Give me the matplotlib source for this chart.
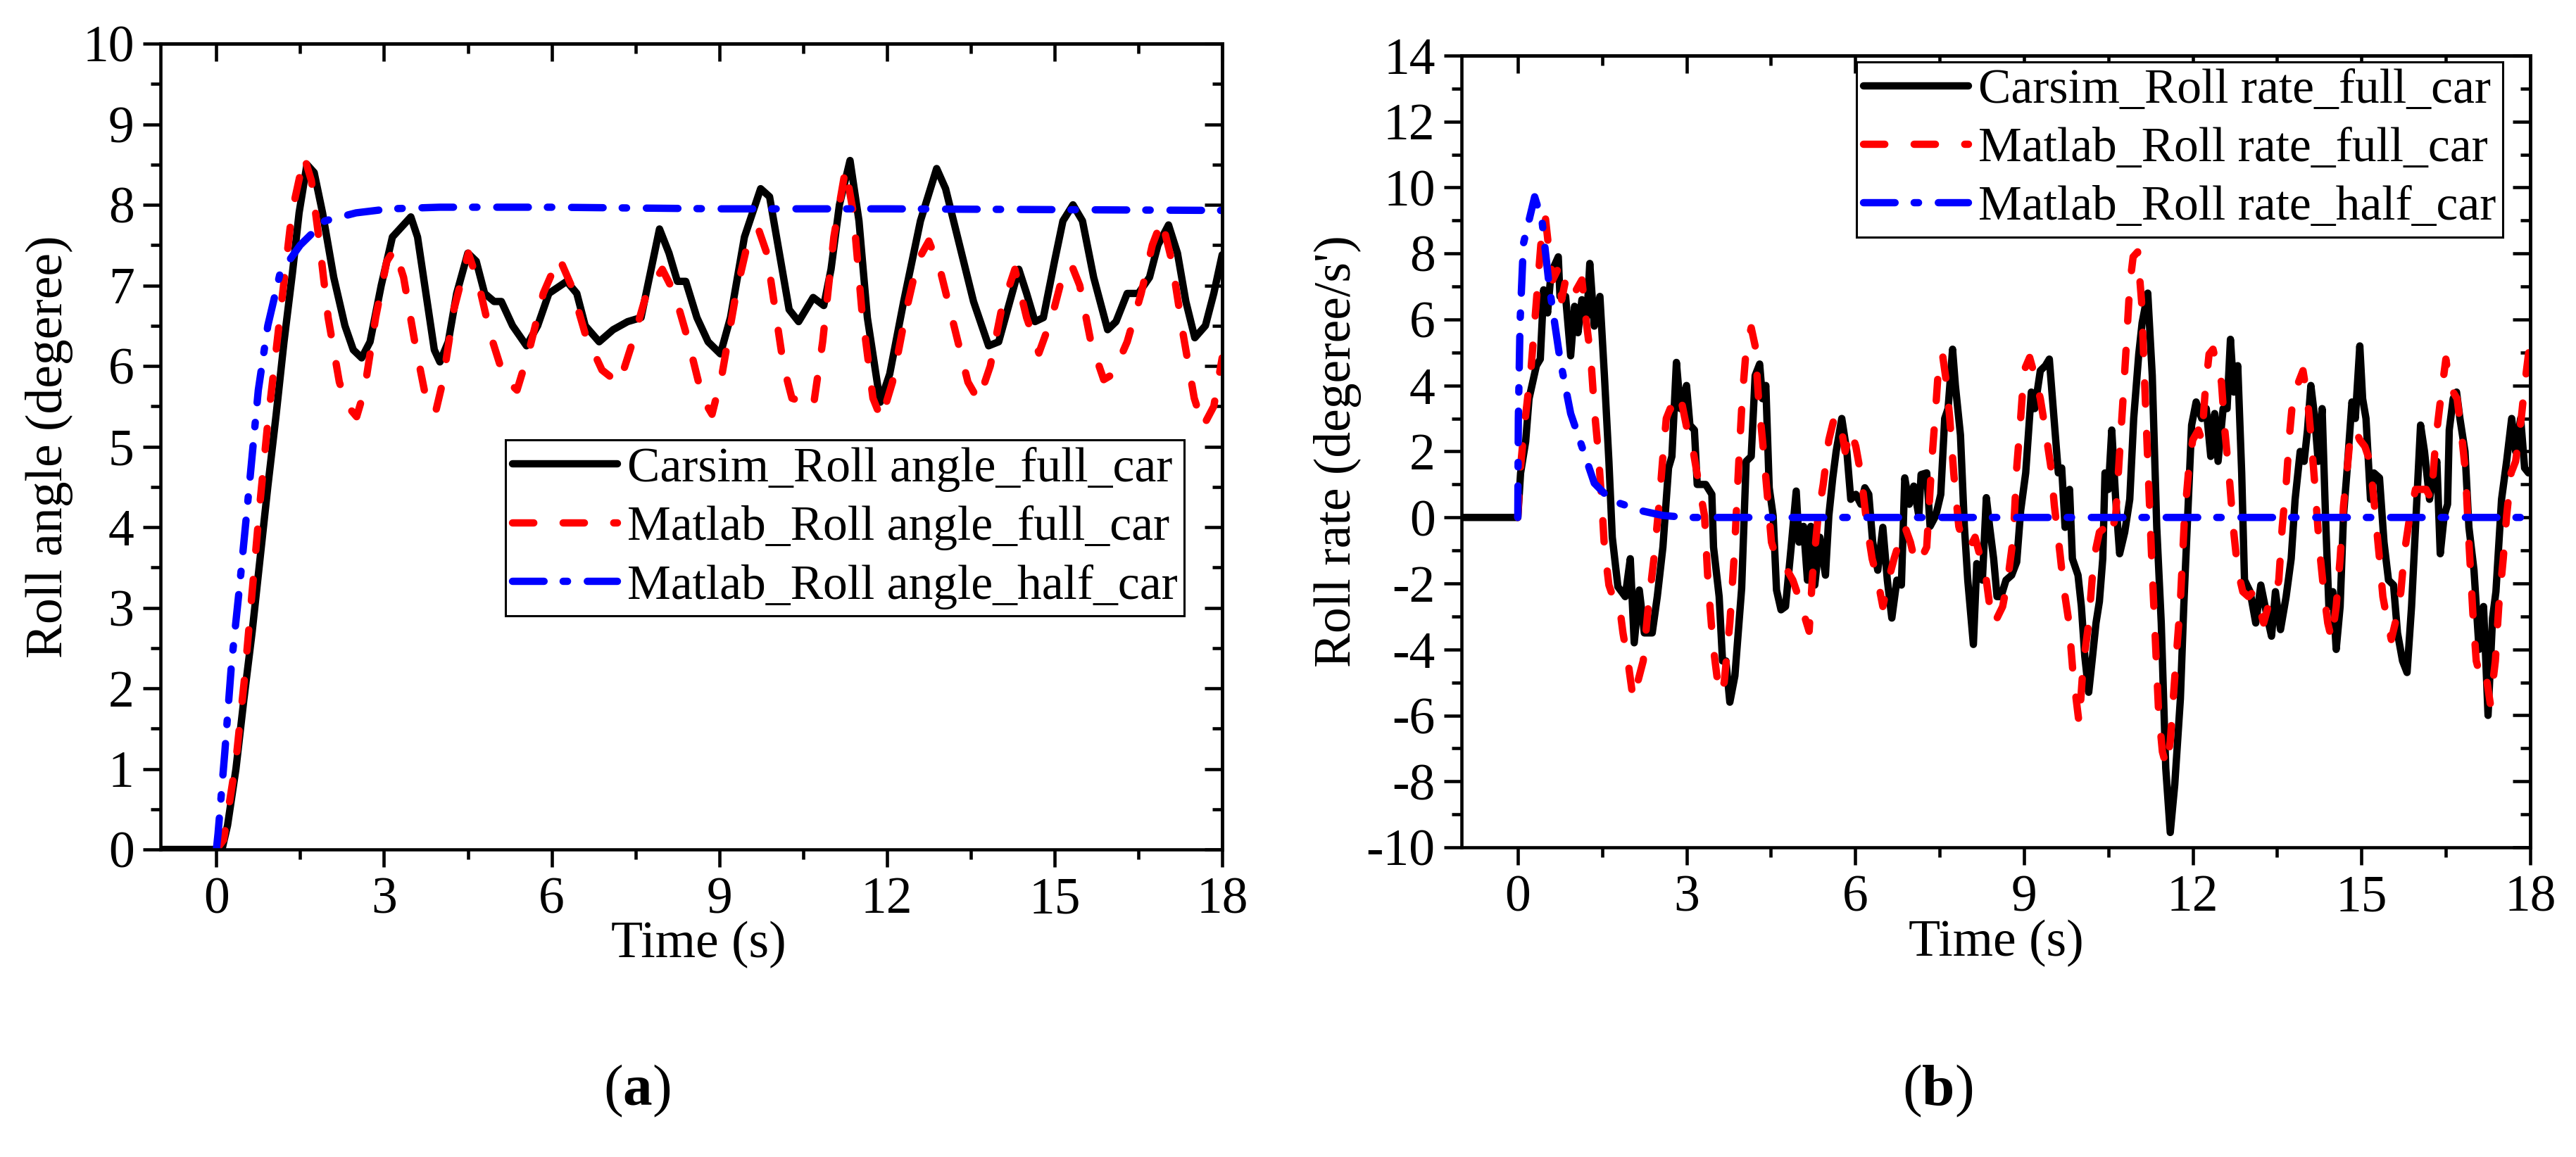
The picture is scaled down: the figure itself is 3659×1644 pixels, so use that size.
import matplotlib
matplotlib.use("Agg")
import matplotlib.pyplot as plt
from matplotlib.ticker import FixedLocator, MultipleLocator
import numpy as np

plt.rcParams['font.family'] = ['Liberation Serif', 'DejaVu Serif']
plt.rcParams['axes.unicode_minus'] = False
plt.rcParams['mathtext.fontset'] = 'custom'
plt.rcParams['mathtext.rm'] = 'Liberation Serif'
plt.rcParams['mathtext.bf'] = 'Liberation Serif:bold'

# ---------------- data: panel (a) roll angle ----------------
angle_carsim_full = [
    (-1, 0), (0.1, 0), (0.2, 0.3), (0.35, 1.0), (0.49, 1.85), (0.64, 2.7), (0.78, 3.6), (0.92, 4.5),
    (1.07, 5.4), (1.21, 6.3), (1.36, 7.15), (1.48, 7.9), (1.62, 8.5), (1.75, 8.4), (1.9, 7.9), (2.1, 7.1),
    (2.3, 6.5), (2.45, 6.2), (2.6, 6.1), (2.75, 6.3), (2.95, 7.0), (3.15, 7.6), (3.48, 7.85), (3.6, 7.6),
    (3.75, 6.9), (3.9, 6.2), (4.0, 6.05), (4.15, 6.3), (4.3, 6.9), (4.5, 7.4), (4.65, 7.3), (4.8, 6.9),
    (4.97, 6.8), (5.1, 6.8), (5.3, 6.5), (5.55, 6.25), (5.75, 6.5), (5.95, 6.9), (6.27, 7.05), (6.45, 6.9),
    (6.6, 6.5), (6.85, 6.3), (7.1, 6.45), (7.36, 6.55), (7.6, 6.6), (7.75, 7.1), (7.93, 7.7), (8.1, 7.4),
    (8.25, 7.05), (8.4, 7.05), (8.6, 6.6), (8.8, 6.3), (9.02, 6.15), (9.2, 6.6), (9.45, 7.6), (9.74, 8.2),
    (9.9, 8.1), (10.05, 7.5), (10.25, 6.7), (10.42, 6.55), (10.55, 6.7), (10.68, 6.85), (10.87, 6.75),
    (11.0, 7.2), (11.15, 8.0), (11.34, 8.55), (11.5, 7.8), (11.65, 6.6), (11.88, 5.55), (12.05, 5.9),
    (12.3, 6.8), (12.6, 7.8), (12.89, 8.45), (13.05, 8.2), (13.3, 7.5), (13.55, 6.8), (13.82, 6.25),
    (14.0, 6.3), (14.2, 6.8), (14.36, 7.2), (14.5, 6.9), (14.65, 6.55), (14.8, 6.6), (15.0, 7.3),
    (15.15, 7.8), (15.33, 8.0), (15.5, 7.8), (15.7, 7.1), (15.95, 6.45), (16.1, 6.55), (16.3, 6.9),
    (16.5, 6.9), (16.7, 7.1), (16.85, 7.5), (17.04, 7.75), (17.2, 7.4), (17.35, 6.8), (17.51, 6.35),
    (17.7, 6.5), (17.85, 6.9), (18, 7.38)]

angle_matlab_full = [
    (0, 0), (0.13, 0.12), (0.35, 1.1), (0.5, 2.1), (0.64, 3.2), (0.78, 4.3), (0.92, 5.3), (1.07, 6.2),
    (1.21, 7.05), (1.35, 7.9), (1.57, 8.6), (1.7, 8.3), (1.85, 7.5), (2.0, 6.6), (2.2, 5.8), (2.35, 5.5),
    (2.51, 5.37), (2.65, 5.7), (2.85, 6.6), (3.05, 7.3), (3.19, 7.45), (3.35, 7.1), (3.55, 6.3), (3.75, 5.6),
    (3.92, 5.42), (4.05, 5.8), (4.25, 6.7), (4.51, 7.4), (4.7, 7.0), (4.9, 6.4), (5.15, 5.85), (5.38, 5.7),
    (5.6, 6.2), (5.85, 6.9), (6.13, 7.35), (6.35, 7.0), (6.6, 6.4), (6.9, 5.95), (7.21, 5.78), (7.45, 6.3),
    (7.7, 6.9), (7.98, 7.2), (8.2, 6.9), (8.45, 6.3), (8.7, 5.6), (8.87, 5.4), (9.05, 5.9), (9.3, 6.9),
    (9.5, 7.5), (9.7, 7.7), (9.85, 7.4), (10.0, 6.7), (10.15, 6.0), (10.3, 5.6), (10.5, 5.55), (10.68, 5.48),
    (10.85, 6.3), (11.05, 7.6), (11.26, 8.45), (11.4, 7.9), (11.55, 6.7), (11.75, 5.6), (11.9, 5.34),
    (12.1, 5.8), (12.35, 6.7), (12.55, 7.3), (12.75, 7.55), (12.95, 7.2), (13.2, 6.5), (13.45, 5.8),
    (13.64, 5.57), (13.85, 6.0), (14.05, 6.7), (14.29, 7.2), (14.5, 6.6), (14.72, 6.16), (14.95, 6.6),
    (15.1, 7.0), (15.3, 7.26), (15.45, 7.0), (15.65, 6.3), (15.88, 5.83), (16.05, 5.9), (16.3, 6.3),
    (16.55, 6.9), (16.75, 7.5), (16.92, 7.81), (17.1, 7.3), (17.3, 6.4), (17.5, 5.6), (17.66, 5.25),
    (17.85, 5.5), (18, 6.1)]

angle_matlab_half = [
    (0, 0), (0.03, 0.2), (0.15, 1.2), (0.27, 2.3), (0.42, 3.3), (0.56, 4.3), (0.75, 5.7), (0.92, 6.5),
    (1.14, 7.15), (1.5, 7.5), (1.94, 7.8), (2.5, 7.9), (3.1, 7.95), (4.0, 7.97), (6, 7.97), (9, 7.95),
    (12, 7.95), (15, 7.94), (18, 7.93)]

# ---------------- data: panel (b) roll rate ----------------
rate_carsim_full = [
    (-1, 0), (0, 0), (0.05, 1.35), (0.14, 2.3), (0.2, 3.6), (0.33, 4.6), (0.4, 4.8), (0.46, 6.9),
    (0.53, 6.2), (0.59, 7.4), (0.72, 7.9), (0.75, 6.7), (0.85, 6.7), (0.94, 4.9), (1.01, 6.4), (1.07, 5.6),
    (1.14, 6.6), (1.23, 6.1), (1.28, 7.7), (1.36, 5.8), (1.46, 6.7), (1.54, 4.3), (1.62, 1.7), (1.68, -0.6),
    (1.78, -2.1), (1.91, -2.4), (2.0, -1.25), (2.07, -3.8), (2.16, -2.2), (2.25, -3.5), (2.39, -3.5),
    (2.48, -2.4), (2.58, -0.9), (2.68, 1.5), (2.74, 1.85), (2.82, 4.7), (2.89, 3.3), (3.0, 4.0),
    (3.06, 2.8), (3.14, 2.65), (3.19, 1.0), (3.34, 1.0), (3.45, 0.7), (3.48, -0.9), (3.58, -2.4),
    (3.64, -4.35), (3.7, -4.35), (3.77, -5.6), (3.86, -4.8), (3.98, -2.15), (4.06, 1.7), (4.15, 1.85),
    (4.22, 4.3), (4.30, 4.65), (4.35, 3.6), (4.41, 4.0), (4.47, 0.9), (4.54, 0.05), (4.6, -2.2),
    (4.68, -2.8), (4.76, -2.7), (4.86, -0.9), (4.95, 0.8), (5.0, -0.75), (5.08, -0.27), (5.15, -1.9),
    (5.21, -0.27), (5.28, -2.05), (5.37, -0.6), (5.47, -1.75), (5.53, 0.05), (5.6, 1.2), (5.66, 2.0),
    (5.76, 3.0), (5.85, 2.0), (5.92, 0.55), (6.01, 0.7), (6.1, 0.4), (6.17, 0.9), (6.24, 0.7),
    (6.31, -0.75), (6.4, -1.6), (6.49, -0.3), (6.57, -1.9), (6.65, -3.05), (6.74, -1.9), (6.82, -2.05),
    (6.88, 1.2), (6.96, 0.4), (7.04, 0.95), (7.13, 0.05), (7.17, 1.3), (7.27, 1.35), (7.33, -0.27),
    (7.43, 0.05), (7.52, 0.7), (7.59, 3.0), (7.65, 3.3), (7.73, 5.1), (7.78, 4.0), (7.87, 2.5),
    (7.94, -0.27), (8.0, -1.9), (8.1, -3.85), (8.16, -1.4), (8.26, -1.9), (8.33, 0.6), (8.39, -0.3),
    (8.46, -1.25), (8.52, -2.4), (8.59, -2.4), (8.68, -1.9), (8.78, -1.75), (8.87, -1.35), (8.94, 0.2),
    (9.03, 1.35), (9.13, 3.8), (9.19, 3.3), (9.29, 4.45), (9.38, 4.6), (9.45, 4.8), (9.51, 3.5),
    (9.61, 1.35), (9.67, 1.5), (9.73, -0.3), (9.81, 0.85), (9.86, -1.25), (9.96, -1.75), (10.02, -2.7),
    (10.08, -4.2), (10.15, -5.3), (10.21, -4.35), (10.28, -3.2), (10.34, -2.55), (10.40, -1.25),
    (10.44, 1.35), (10.5, 0.85), (10.56, 2.65), (10.63, 0.55), (10.7, -1.1), (10.79, -0.45), (10.88, 0.55),
    (10.95, 3.0), (11.04, 4.95), (11.1, 5.9), (11.2, 6.8), (11.28, 4.3), (11.36, -0.3), (11.44, -3.2),
    (11.52, -7.6), (11.6, -9.55), (11.68, -8.1), (11.78, -5.5), (11.84, -2.7), (11.91, 0.05), (11.98, 2.8),
    (12.06, 3.5), (12.16, 3.0), (12.24, 3.3), (12.32, 1.85), (12.39, 3.15), (12.45, 1.7), (12.54, 3.3),
    (12.61, 3.3), (12.67, 5.4), (12.73, 3.8), (12.80, 4.6), (12.87, 1.35), (12.92, -1.9), (13.02, -2.25),
    (13.12, -3.2), (13.21, -2.05), (13.31, -2.9), (13.40, -3.6), (13.47, -2.25), (13.56, -3.4),
    (13.66, -2.4), (13.75, -1.25), (13.82, 0.55), (13.91, 2.0), (13.98, 1.7), (14.04, 2.65), (14.1, 4.0),
    (14.17, 3.0), (14.23, 1.7), (14.3, 3.3), (14.36, 0.05), (14.42, -2.7), (14.49, -2.25), (14.55, -4.0),
    (14.62, -2.7), (14.68, 0.05), (14.74, 1.35), (14.83, 3.5), (14.89, 3.0), (14.97, 5.2), (15.02, 3.6),
    (15.08, 3.0), (15.16, 0.55), (15.22, 1.35), (15.32, 1.2), (15.4, -0.75), (15.48, -1.9), (15.57, -2.05),
    (15.64, -3.5), (15.73, -4.35), (15.81, -4.7), (15.89, -2.7), (15.96, -0.3), (16.05, 2.8), (16.12, 2.0),
    (16.21, 0.55), (16.28, 1.35), (16.34, 1.7), (16.40, -1.1), (16.47, 0.05), (16.53, 0.4), (16.56, 2.65),
    (16.63, 3.6), (16.69, 3.8), (16.75, 3.0), (16.84, 2.0), (16.91, -0.3), (17.0, -1.6), (17.09, -4.0),
    (17.17, -2.7), (17.25, -6.0), (17.33, -3.05), (17.39, -2.25), (17.49, 0.55), (17.58, 1.7), (17.67, 3.0),
    (17.74, 2.0), (17.83, 3.0), (17.90, 1.5), (17.97, 1.35)]

rate_matlab_full = [
    (0, 0), (0.04, 1.35), (0.11, 2.65), (0.24, 4.6), (0.3, 5.9), (0.37, 7.4), (0.43, 8.7), (0.49, 9.1),
    (0.56, 8.0), (0.62, 7.2), (0.72, 7.55), (0.78, 6.6), (0.85, 7.2), (0.94, 7.4), (1.04, 6.9), (1.14, 7.2),
    (1.22, 5.9), (1.3, 4.8), (1.36, 3.3), (1.43, 2.0), (1.49, 0.55), (1.54, -0.9), (1.62, -2.05),
    (1.72, -2.55), (1.81, -2.7), (1.87, -3.5), (1.97, -4.5), (2.05, -5.5), (2.13, -5.0), (2.23, -4.35),
    (2.32, -2.7), (2.42, -1.25), (2.52, 0.55), (2.58, 1.85), (2.64, 3.0), (2.71, 3.3), (2.8, 3.15),
    (2.9, 3.6), (3.03, 2.5), (3.12, 2.0), (3.22, 1.0), (3.32, 0.05), (3.38, -1.9), (3.47, -3.85),
    (3.58, -5.35), (3.67, -5.0), (3.77, -3.2), (3.85, -1.1), (3.93, 1.7), (3.99, 3.6), (4.06, 5.1),
    (4.15, 5.75), (4.22, 5.2), (4.28, 3.6), (4.35, 2.35), (4.41, 1.2), (4.51, -0.75), (4.6, -1.25),
    (4.68, -1.4), (4.79, -1.6), (4.89, -1.9), (4.99, -2.4), (5.08, -2.9), (5.18, -3.45), (5.24, -1.75),
    (5.34, 0.05), (5.43, 1.0), (5.53, 2.35), (5.63, 3.05), (5.72, 3.0), (5.82, 2.0), (5.92, 2.65),
    (6.01, 2.15), (6.11, 1.2), (6.21, -0.27), (6.3, -1.25), (6.4, -1.9), (6.49, -2.7), (6.59, -1.9),
    (6.69, -1.25), (6.78, -0.75), (6.88, -0.27), (6.98, -0.75), (7.07, -1.4), (7.17, -1.25), (7.27, -0.9),
    (7.36, 1.7), (7.43, 3.3), (7.49, 4.8), (7.55, 4.95), (7.62, 4.1), (7.68, 3.0), (7.75, 1.35),
    (7.84, -0.27), (7.94, -0.9), (8.04, -0.9), (8.13, -0.6), (8.23, -1.25), (8.33, -1.9), (8.43, -3.2),
    (8.52, -3.05), (8.62, -2.7), (8.71, -1.9), (8.81, -0.6), (8.87, 1.5), (8.94, 3.0), (9.0, 4.45),
    (9.1, 4.85), (9.19, 4.3), (9.29, 3.6), (9.38, 2.65), (9.48, 1.5), (9.54, 0.35), (9.64, -1.1),
    (9.7, -2.05), (9.8, -3.2), (9.87, -4.7), (9.98, -6.25), (10.05, -4.5), (10.15, -3.2), (10.24, -1.25),
    (10.34, -0.45), (10.44, -0.3), (10.53, -0.6), (10.63, 0.05), (10.69, 1.7), (10.75, 3.3), (10.82, 5.25),
    (10.88, 7.05), (10.94, 7.9), (11.02, 8.05), (11.09, 6.55), (11.14, 4.3), (11.2, 1.7), (11.27, -1.25),
    (11.33, -3.55), (11.39, -5.8), (11.46, -7.1), (11.53, -7.55), (11.6, -6.8), (11.68, -4.85),
    (11.78, -2.55), (11.85, -0.1), (11.94, 1.7), (12.0, 2.35), (12.1, 2.65), (12.16, 2.35), (12.22, 3.8),
    (12.29, 4.95), (12.36, 5.1), (12.45, 4.45), (12.51, 4.1), (12.57, 2.65), (12.66, 1.0), (12.72, -0.3),
    (12.8, -1.6), (12.89, -2.25), (12.99, -2.4), (13.08, -2.25), (13.18, -2.7), (13.26, -3.2),
    (13.34, -2.7), (13.44, -2.55), (13.53, -1.9), (13.59, -0.3), (13.66, 1.0), (13.72, 2.5), (13.79, 3.8),
    (13.88, 4.1), (13.96, 4.45), (14.04, 3.6), (14.1, 2.5), (14.17, 1.0), (14.25, -0.9), (14.33, -2.25),
    (14.4, -3.2), (14.47, -3.7), (14.55, -2.7), (14.62, -1.25), (14.68, 0.35), (14.74, 1.35), (14.81, 2.65),
    (14.89, 2.65), (14.97, 2.35), (15.06, 2.15), (15.15, 1.7), (15.22, 0.55), (15.32, -1.25), (15.38, -2.4),
    (15.45, -3.05), (15.53, -3.7), (15.6, -3.2), (15.7, -2.25), (15.76, -1.1), (15.86, 0.05), (15.96, 0.85),
    (16.05, 0.85), (16.15, 0.85), (16.24, 0.55), (16.32, 2.35), (16.4, 3.5), (16.5, 4.8), (16.56, 4.1),
    (16.63, 3.8), (16.7, 3.6), (16.79, 2.35), (16.85, 1.35), (16.91, -0.75), (16.98, -2.9), (17.04, -4.35),
    (17.14, -5.0), (17.22, -4.85), (17.29, -5.65), (17.38, -4.35), (17.44, -2.7), (17.52, -1.25),
    (17.58, 0.05), (17.66, 1.35), (17.74, 1.7), (17.84, 3.0), (17.9, 4.0), (17.98, 5.1)]

rate_matlab_half = [
    (0, 0), (0.01, 3.0), (0.04, 5.9), (0.1, 8.3), (0.3, 9.72), (0.43, 9.0), (0.56, 7.0), (0.75, 4.8),
    (0.94, 3.15), (1.10, 2.35), (1.36, 1.04), (1.55, 0.71), (1.81, 0.43), (2.23, 0.19), (2.58, 0.06),
    (3.0, 0.0), (18, 0.0)]

labels_a = ['Carsim_Roll angle_full_car', 'Matlab_Roll angle_full_car', 'Matlab_Roll angle_half_car']
labels_b = ['Carsim_Roll rate_full_car', 'Matlab_Roll rate_full_car', 'Matlab_Roll rate_half_car']
x_ticks = [0, 3, 6, 9, 12, 15, 18]
y_ticks_a = list(range(0, 11))
y_ticks_b = list(range(-10, 15, 2))

# ---------------- figure ----------------
W, H = 3659, 1644
fig = plt.figure(figsize=(W / 100, H / 100), dpi=100)

def fbox(x0, y0, x1, y1):
    return [x0 / W, 1 - y1 / H, (x1 - x0) / W, (y1 - y0) / H]

LW = 7.5
RED_DASH = (0, (2.9, 4.0))
BLUE_DASHDOT = (0, (4.3, 2.6, 0.6, 2.7))
FS = 53
FS_LEG = 50
SPW = 3.3

def style_axes(ax, yticks, yminor, ylim):
    ax.set_xlim(-1, 18)
    ax.set_ylim(*ylim)
    ax.xaxis.set_major_locator(FixedLocator(x_ticks))
    ax.xaxis.set_minor_locator(FixedLocator([1.5, 4.5, 7.5, 10.5, 13.5, 16.5]))
    ax.yaxis.set_major_locator(FixedLocator(yticks))
    ax.yaxis.set_minor_locator(MultipleLocator(yminor))
    for s in ax.spines.values():
        s.set_linewidth(SPW)
    ax.tick_params(which='both', direction='out', width=SPW, top=False, right=False,
                   labelsize=FS)
    ax.tick_params(which='major', length=18)
    ax.tick_params(which='minor', length=10)
    ax.tick_params(axis='y', pad=9)
    ax.tick_params(axis='x', pad=10)
    secx = ax.secondary_xaxis('top')
    secx.xaxis.set_major_locator(FixedLocator(x_ticks))
    secx.xaxis.set_minor_locator(FixedLocator([1.5, 4.5, 7.5, 10.5, 13.5, 16.5]))
    secx.tick_params(which='both', direction='in', width=SPW, labeltop=False)
    secx.tick_params(which='major', length=18)
    secx.tick_params(which='minor', length=10)
    secx.spines['top'].set_linewidth(SPW)
    secy = ax.secondary_yaxis('right')
    secy.yaxis.set_major_locator(FixedLocator(yticks))
    secy.yaxis.set_minor_locator(MultipleLocator(yminor))
    secy.tick_params(which='both', direction='in', width=SPW, labelright=False)
    secy.tick_params(which='major', length=18)
    secy.tick_params(which='minor', length=10)
    secy.spines['right'].set_linewidth(SPW)

def plot_series(ax, data, **kw):
    arr = np.array(data, dtype=float)
    return ax.plot(arr[:, 0], arr[:, 1], **kw)[0]

def add_legend(ax, x0, y0):
    leg = ax.legend(loc='upper left', bbox_to_anchor=(x0 / W, 1 - y0 / H),
                    bbox_transform=fig.transFigure, borderaxespad=0, fontsize=FS_LEG,
                    handlelength=2.15, handletextpad=0.2, borderpad=0.14, labelspacing=0.28,
                    frameon=True, fancybox=False, edgecolor='black', framealpha=1)
    leg.get_frame().set_linewidth(2.2)
    return leg

# ---- panel (a)
ax1 = fig.add_axes(fbox(228, 62, 1736, 1207))
plot_series(ax1, angle_carsim_full, color='black', lw=LW, solid_capstyle='round',
            solid_joinstyle='round', label=labels_a[0])
plot_series(ax1, angle_matlab_full, color='#ff0000', lw=LW, linestyle=RED_DASH,
            dash_capstyle='round', label=labels_a[1])
plot_series(ax1, angle_matlab_half, color='#0000ff', lw=LW, linestyle=BLUE_DASHDOT,
            dash_capstyle='round', label=labels_a[2])
style_axes(ax1, y_ticks_a, 0.5, (0, 10))
ax1.set_ylabel('Roll angle (degeree)', fontsize=FS, va='center', ha='center')
ax1.yaxis.set_label_coords(-0.105, 0.5)
ax1.set_xlabel('Time (s)', fontsize=FS, va='center', ha='center')
ax1.xaxis.set_label_coords(0.507, -0.118)
add_legend(ax1, 718, 625)

# ---- panel (b)
ax2 = fig.add_axes(fbox(2076, 79, 3594, 1204))
plot_series(ax2, rate_carsim_full, color='black', lw=LW, solid_capstyle='round',
            solid_joinstyle='round', label=labels_b[0])
plot_series(ax2, rate_matlab_full, color='#ff0000', lw=LW, linestyle=RED_DASH,
            dash_capstyle='round', label=labels_b[1])
plot_series(ax2, rate_matlab_half, color='#0000ff', lw=LW, linestyle=BLUE_DASHDOT,
            dash_capstyle='round', label=labels_b[2])
style_axes(ax2, y_ticks_b, 1, (-10, 14))
ax2.set_ylabel("Roll rate (degeree/s')", fontsize=FS, va='center', ha='center')
ax2.yaxis.set_label_coords(-0.116, 0.5)
ax2.set_xlabel('Time (s)', fontsize=FS, va='center', ha='center')
ax2.xaxis.set_label_coords(0.5, -0.121)
add_legend(ax2, 2637, 88)

fig.text(905 / W, 1 - 1550 / H, r'($\mathbf{a}$)', fontsize=60, ha='center', va='center')
fig.text(2752 / W, 1 - 1550 / H, r'($\mathbf{b}$)', fontsize=60, ha='center', va='center')

fig.savefig('out.png', dpi=100)
